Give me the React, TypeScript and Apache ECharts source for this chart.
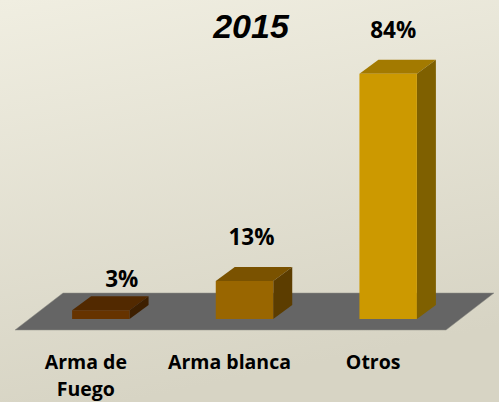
import React, { useEffect, useRef } from "react";
import * as echarts from "echarts";

const categories = ["Arma de\nFuego", "Arma blanca", "Otros"];
const values = [3, 13, 84];
const frontColors = ["#663300", "#996600", "#cc9900"];
const topColors = ["#522900", "#7a5200", "#a37a00"];
const sideColors = ["#3d1f00", "#5c3d00", "#7f6000"];
const labelDx = [21, 7, 5];
const labelDy = [20.5, 33, 32.5];
const title = "2015";
const DEPTH_X = 19;
const DEPTH_Y = 14;

export default function App() {
  const ref = useRef<HTMLDivElement>(null);
  useEffect(() => {
    document.body.style.margin = "0";
    const chart = echarts.init(ref.current!, null, { renderer: "svg" });
    chart.setOption({
      animation: false,
      backgroundColor: {
        type: "linear", x: 0, y: 0, x2: 0.25, y2: 1,
        colorStops: [
          { offset: 0, color: "#f0eee1" },
          { offset: 1, color: "#d7d4c4" },
        ],
      },
      title: {
        text: title,
        left: 246,
        top: 4,
        textAlign: "center",
        textStyle: { fontFamily: "Liberation Sans", fontSize: 34, fontWeight: "bold", fontStyle: "italic", color: "#000" },
      },
      graphic: [
        {
          type: "polygon",
          z: 0,
          shape: { points: [[15, 330], [446, 330], [494, 293], [63, 293]] },
          style: { fill: "#656565", stroke: "#8f8f86", lineWidth: 0.5 },
        },
      ],
      grid: { left: 29, top: 27, width: 431, height: 292, outerBoundsMode: "none" },
      xAxis: {
        type: "category",
        data: categories,
        axisLine: { show: false },
        axisTick: { show: false },
        axisLabel: {
          interval: 0,
          margin: 29,
          padding: [0, 30, 0, 0],
          lineHeight: 27,
          fontFamily: "Open Sans",
          fontWeight: "bold",
          fontSize: 19.5,
          color: "#000",
        },
      },
      yAxis: { type: "value", min: 0, max: 100, show: false },
      series: [
        {
          type: "custom",
          z: 5,
          clip: false,
          data: values.map((v, i) => [i, v]),
          encode: { x: 0, y: 1 },
          renderItem: (params: any, api: any) => {
            const i = params.dataIndex;
            const base = api.coord([api.value(0), 0]);
            const top = api.coord([api.value(0), api.value(1)]);
            const w = api.size([1, 0])[0] * 0.4;
            const l = base[0] - w / 2;
            const r = base[0] + w / 2;
            const yb = base[1];
            const yt = top[1];
            const poly = (points: number[][], fill: string) => ({
              type: "polygon",
              shape: { points },
              style: { fill },
            });
            return {
              type: "group",
              children: [
                poly([[l, yt], [r, yt], [r + DEPTH_X, yt - DEPTH_Y], [l + DEPTH_X, yt - DEPTH_Y]], topColors[i]),
                poly([[r, yb], [r + DEPTH_X, yb - DEPTH_Y], [r + DEPTH_X, yt - DEPTH_Y], [r, yt]], sideColors[i]),
                poly([[l, yb], [r, yb], [r, yt], [l, yt]], frontColors[i]),
                {
                  type: "text",
                  style: {
                    text: api.value(1) + "%",
                    x: base[0] + labelDx[i],
                    y: yt - labelDy[i],
                    align: "center",
                    verticalAlign: "bottom",
                    fontFamily: "Open Sans",
                    fontWeight: "bold",
                    fontSize: 22.5,
                    fill: "#000",
                  },
                },
              ],
            };
          },
        },
      ],
    });
    return () => chart.dispose();
  }, []);
  return <div ref={ref} style={{ width: 499, height: 402 }} />;
}
